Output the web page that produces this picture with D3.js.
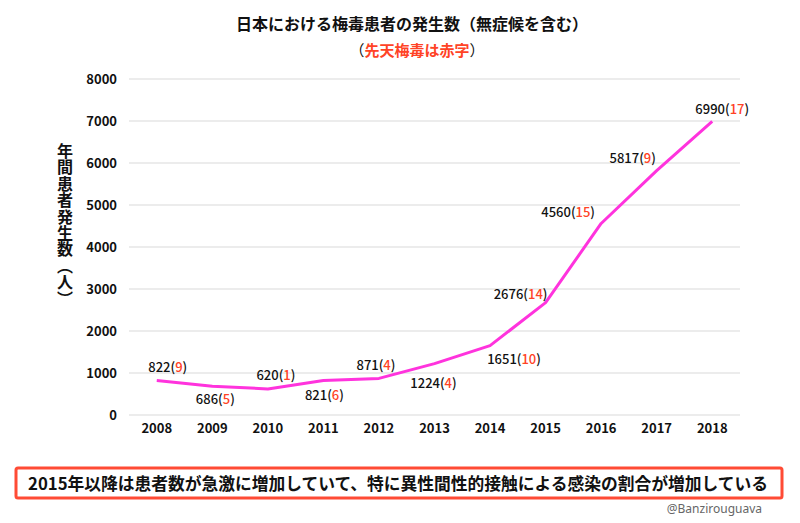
<!DOCTYPE html>
<html>
<head>
<meta charset="utf-8">
<script src="https://cdn.jsdelivr.net/npm/d3@7"></script>
<style>
  html, body { margin: 0; padding: 0; background: #fff; }
  svg { display: block; font-family: "Noto Sans CJK JP", "Noto Sans", sans-serif; }
</style>
</head>
<body>
<svg id="chart" width="800" height="523"></svg>
<script>
// ---- data ----
const years = ["2008","2009","2010","2011","2012","2013","2014","2015","2016","2017","2018"];
const patients = [822, 686, 620, 821, 871, 1224, 1651, 2676, 4560, 5817, 6990];
const congenital = [9, 5, 1, 6, 4, 4, 10, 14, 15, 9, 17];
const yTicks = [0, 1000, 2000, 3000, 4000, 5000, 6000, 7000, 8000];

const titleText = "日本における梅毒患者の発生数（無症候を含む）";
const subtitleText = "先天梅毒は赤字";
const yAxisTitle = "年間患者発生数（人）";
const noteText = "2015年以降は患者数が急激に増加していて、特に異性間性的接触による感染の割合が増加している";
const creditText = "@Banzirouguava";

// label placement offsets (layout only)
const labelDx = [11, 3, 8, 1, -3, -1, 24, -25, -33, -24, 10];
const labelDy = [-14, 12, -15, 13, -14, 18, 12, -10, -12, -14, -13];

// ---- layout ----
const svg = d3.select("#chart");
const red = "#ff4326";
const x = d3.scaleBand().domain(years).range([129, 740]).paddingInner(0).paddingOuter(0);
const y = d3.scaleLinear().domain([0, 8000]).range([415, 79]);
const cx = d => x(d) + x.bandwidth() / 2;

// gridlines
svg.append("g").selectAll("line").data(yTicks).join("line")
  .attr("x1", 129).attr("x2", 740)
  .attr("y1", d => y(d)).attr("y2", d => y(d))
  .attr("stroke", "#d9d9d9").attr("stroke-width", 1);

// y axis labels
const yAxis = d3.axisLeft(y).tickValues(yTicks).tickSize(0).tickPadding(0).tickFormat(d3.format("d"));
const gy = svg.append("g").attr("transform", "translate(117,0)").call(yAxis);
gy.select(".domain").remove();
gy.selectAll("text").attr("font-size", 13).attr("font-weight", "bold").attr("fill", "#111")
  .attr("font-family", "'Noto Sans CJK JP', sans-serif");

// x axis labels
const xAxis = d3.axisBottom(x).tickSize(0).tickPadding(0);
const gx = svg.append("g").attr("transform", "translate(0,424)").call(xAxis);
gx.select(".domain").remove();
gx.selectAll("text").attr("font-size", 13).attr("font-weight", "bold").attr("fill", "#111")
  .attr("font-family", "'Noto Sans CJK JP', sans-serif");

// line
const data = years.map((yr, i) => ({ yr, v: patients[i], c: congenital[i], dx: labelDx[i], dy: labelDy[i] }));
svg.append("path").datum(data)
  .attr("fill", "none").attr("stroke", "#ff33dd").attr("stroke-width", 3)
  .attr("stroke-linejoin", "round").attr("stroke-linecap", "butt")
  .attr("d", d3.line().x(d => cx(d.yr)).y(d => y(d.v)));

// data labels
const lbl = svg.append("g").selectAll("text").data(data).join("text")
  .attr("x", d => cx(d.yr) + d.dx)
  .attr("y", d => y(d.v) + d.dy)
  .attr("text-anchor", "middle").attr("dominant-baseline", "central")
  .attr("font-size", 13).attr("font-weight", 500).attr("fill", "#111");
lbl.append("tspan").text(d => d.v);
lbl.append("tspan").text("(");
lbl.append("tspan").attr("fill", red).text(d => d.c);
lbl.append("tspan").text(")");

// title
svg.append("text").attr("x", 412).attr("y", 23)
  .attr("text-anchor", "middle").attr("dominant-baseline", "central")
  .attr("font-size", 16).attr("font-weight", "bold").attr("fill", "#111")
  .text(titleText);
const sub = svg.append("text").attr("x", 417).attr("y", 49)
  .attr("text-anchor", "middle").attr("dominant-baseline", "central")
  .attr("font-size", 15).attr("font-weight", "bold").attr("fill", "#111");
sub.append("tspan").attr("font-weight", "normal").text("（");
sub.append("tspan").attr("fill", red).text(subtitleText);
sub.append("tspan").attr("font-weight", "normal").text("）");

// y axis title (vertical writing)
svg.append("text").attr("x", 65).attr("y", 143)
  .style("writing-mode", "vertical-rl")
  .style("letter-spacing", "0.4px")
  .attr("font-size", 16).attr("font-weight", "bold").attr("fill", "#111")
  .text(yAxisTitle);

// note box
svg.append("rect").attr("x", 16).attr("y", 468).attr("width", 766).attr("height", 30)
  .attr("rx", 2).attr("fill", "#fff").attr("stroke", "#ff4b35").attr("stroke-width", 3);
svg.append("text").attr("x", 398).attr("y", 482)
  .attr("text-anchor", "middle").attr("dominant-baseline", "central")
  .attr("font-size", 17).attr("font-weight", "bold").attr("fill", "#111")
  .attr("textLength", 740).attr("lengthAdjust", "spacingAndGlyphs")
  .text(noteText);

// credit
svg.append("text").attr("x", 762).attr("y", 508)
  .attr("text-anchor", "end").attr("dominant-baseline", "central")
  .attr("font-size", 12).attr("fill", "#666")
  .attr("font-family", "'Noto Sans', sans-serif")
  .text(creditText);
</script>
</body>
</html>
